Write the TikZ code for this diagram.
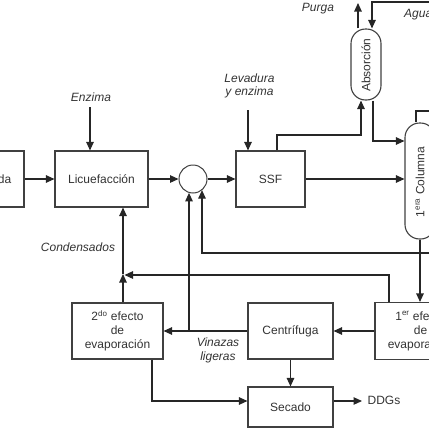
\documentclass[tikz,border=0pt]{standalone}
\usepackage{fontspec}
\setmainfont{Liberation Sans}
\usetikzlibrary{arrows.meta,calc}
\begin{document}
\begin{tikzpicture}[x=1pt,y=-1pt,
  font=\fontsize{12}{14}\selectfont,
  box/.style={draw=black!75, line width=1.1pt, inner sep=0pt, align=center, text=black!80},
  capsule/.style={draw=black!75, line width=1.1pt, rounded corners=14.5pt, minimum width=30pt, inner sep=0pt},
  lab/.style={font=\fontsize{12}{13}\selectfont\itshape, text=black!80, inner sep=0pt, align=center},
  arr/.style={-{Triangle[length=8.5pt,width=7.5pt]}, line width=1.1pt, draw=black!85},
  ln/.style={line width=1.1pt, draw=black!85}]
\useasboundingbox (0,0) rectangle (429,429);
\clip (0,0) rectangle (429,429);
% nodes
\node[box, minimum width=74pt, minimum height=56pt] (mol) at (-13,179) {Molienda};
\node[box, minimum width=93pt, minimum height=56pt] (lic) at (101.5,179) {Licuefacción};
\node[circle, draw=black!75, line width=1pt, minimum size=28pt, inner sep=0pt] (mix) at (193,179) {};
\node[box, minimum width=69pt, minimum height=56pt] (ssf) at (270.5,179) {SSF};
\node[capsule, minimum height=71pt] (abs) at (366,64.5) {};
\node[rotate=90, text=black!80, inner sep=0pt] (abstxt) at (366,65) {Absorción};
\node[capsule, minimum height=116pt] (col) at (420,181) {};
\node[rotate=90, text=black!80, inner sep=0pt] (coltxt) at (420,182) {1\textsuperscript{era} Columna};
\node[box, minimum width=91pt, minimum height=57pt] (ef1) at (420.5,331) {1\textsuperscript{er} efecto\\de\\evaporación};
\node[box, minimum width=85pt, minimum height=56pt] (cen) at (290.5,331) {Centrífuga};
\node[box, minimum width=91pt, minimum height=56pt] (ef2) at (117.5,331) {2\textsuperscript{do} efecto\\de\\evaporación};
\node[box, minimum width=85pt, minimum height=40pt] (sec) at (290.5,407) {Secado};
% labels
\node[lab] (lenz) at (91,97) {Enzima};
\node[lab] (llev) at (249.5,86) {Levadura\\y enzima};
\node[lab] (lpur) at (318,9) {Purga};
\node[lab, anchor=west] (lagu) at (404,15) {Agua};
\node[lab] (lcon) at (78,247) {Condensados};
\node[lab, font=\fontsize{12}{14}\selectfont\itshape] (lvin) at (218,350) {Vinazas\\ligeras};
\node[text=black!80, inner sep=0pt] (lddg) at (384,400) {DDGs};
% coordinates
\coordinate (enzs) at (90,107);
\coordinate (levs) at (248,110);
\coordinate (j1) at (277,135);
\coordinate (j2) at (361,135);
\coordinate (j3) at (373,141);
\coordinate (pur) at (358,3);
\coordinate (agR) at (432,2);
\coordinate (agC) at (372,2);
\coordinate (ct) at (416,111);
\coordinate (ctR) at (432,111);
\coordinate (r1) at (432,253);
\coordinate (r2) at (202,253);
\coordinate (v1) at (189,331);
\coordinate (c1) at (389,275);
\coordinate (c3) at (124.5,275);
\coordinate (c4) at (123,274);
\coordinate (d1) at (152,401);
\coordinate (d2) at (362,401);
% connectors
\draw[arr] (mol.east) -- (lic.west);
\draw[arr] (enzs) -- (enzs |- lic.north);
\draw[arr] (lic.east) -- (mix.west);
\draw[arr] (mix.east) -- (ssf.west);
\draw[arr] (levs) -- (levs |- ssf.north);
\draw[arr] (ssf.north -| j1) -- (j1) -- (j2) -- (j2 |- abs.south);
\draw[arr] (j3 |- abs.south) -- (j3) -- (j3 -| col.west);
\draw[arr] (ssf.east) -- (ssf.east -| col.west);
\draw[arr] (pur |- abs.north) -- (pur);
\draw[arr] (agR) -- (agC) -- (agC |- abs.north);
\draw[ln] (ct |- col.north) -- (ct) -- (ctR);
\draw[arr] (col.south) -- (col.south |- ef1.north);
\draw[arr] (r1) -- (r2) -- (r2 |- mix.-50);
\draw[arr] (cen.west) -- (cen.west -| ef2.east);
\draw[arr] (v1) -- (v1 |- mix.-107);
\draw[arr] (ef1.north -| c1) -- (c1) -- (c3);
\draw[arr] (ef2.north -| c4) -- (c4);
\draw[arr] (c4) -- (c4 |- lic.south);
\draw[arr] (ef1.west) -- (cen.east);
\draw[arr] (cen.south) -- (sec.north);
\draw[arr] (ef2.south -| d1) -- (d1) -- (d1 -| sec.west);
\draw[arr] (d1 -| sec.east) -- (d2);
\end{tikzpicture}
\end{document}
